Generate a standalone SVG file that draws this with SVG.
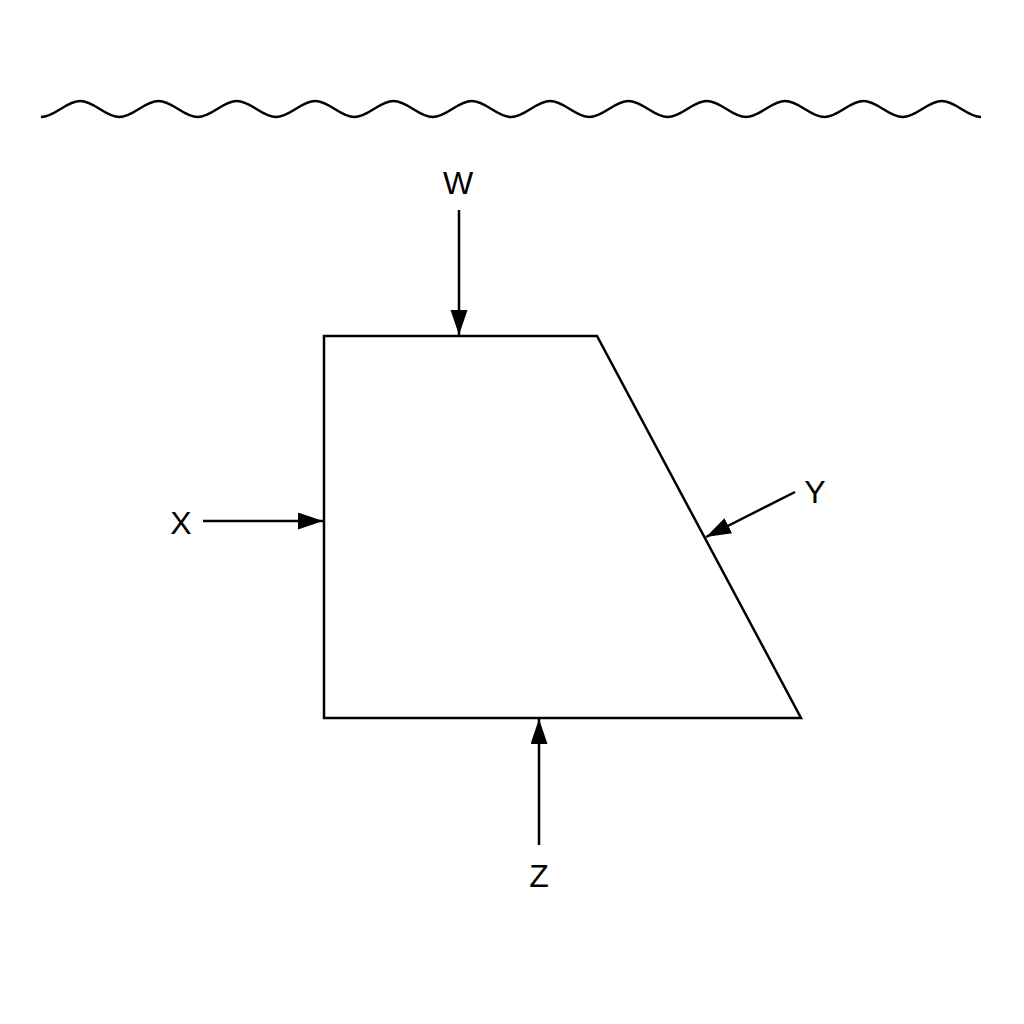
<svg xmlns="http://www.w3.org/2000/svg" width="1024" height="1024" viewBox="0 0 1024 1024">
<style>
.ln{fill:none;stroke:#000;stroke-width:2.5}
.lbl{font-family:"Liberation Sans",Arial,sans-serif;font-size:32px;fill:#000;text-anchor:middle}
</style>
<defs>
<marker id="ah" markerUnits="userSpaceOnUse" markerWidth="26" markerHeight="18" refX="25" refY="8.5" orient="auto" viewBox="0 0 26 18">
<path d="M0,0 L25,8.5 L0,17 z" fill="#000"/>
</marker>
</defs>
<rect width="1024" height="1024" fill="#fff"/>
<g id="water">
<path class="ln" d="M41 117 C55.26 117 65.91 101 80.17 101 S105.07 117 119.33 117 S144.24 101 158.5 101 S183.41 117 197.67 117 S222.57 101 236.83 101 S261.74 117 276 117 S300.91 101 315.17 101 S340.07 117 354.33 117 S379.24 101 393.5 101 S418.41 117 432.67 117 S457.57 101 471.83 101 S496.74 117 511 117 S535.91 101 550.17 101 S575.07 117 589.33 117 S614.24 101 628.5 101 S653.41 117 667.67 117 S692.57 101 706.83 101 S731.74 117 746 117 S770.91 101 785.17 101 S810.07 117 824.33 117 S849.24 101 863.5 101 S888.41 117 902.67 117 S927.57 101 941.83 101 S966.74 117 981 117"/>
</g>
<g id="body">
<path class="ln" d="M324 336 L597 336 L801 718 L324 718 Z"/>
</g>
<g id="connectors">
<line class="ln" x1="459" y1="210" x2="459" y2="335" marker-end="url(#ah)"/>
<line class="ln" x1="203" y1="521" x2="323" y2="521" marker-end="url(#ah)"/>
<line class="ln" x1="795" y1="492" x2="706" y2="537" marker-end="url(#ah)"/>
<line class="ln" x1="539" y1="845" x2="539" y2="719" marker-end="url(#ah)"/>
</g>
<g id="label-W"><text class="lbl" x="458" y="194">W</text></g>
<g id="label-X"><text class="lbl" x="181" y="534">X</text></g>
<g id="label-Y"><text class="lbl" x="815" y="503">Y</text></g>
<g id="label-Z"><text class="lbl" x="539" y="887">Z</text></g>
</svg>
